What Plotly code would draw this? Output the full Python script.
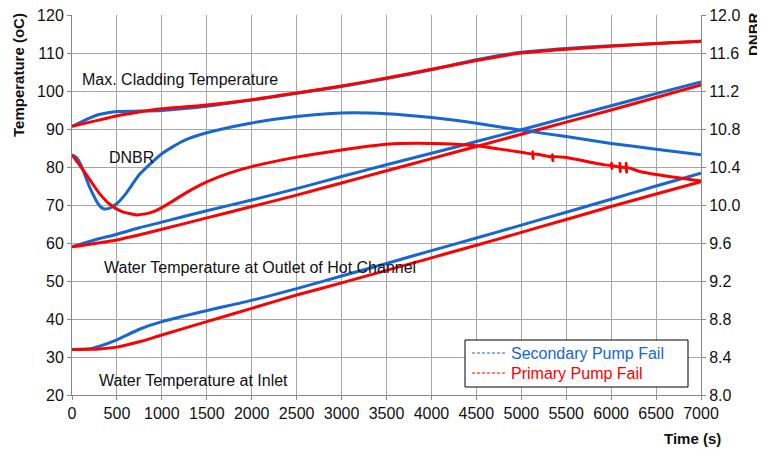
import plotly.graph_objects as go

# ---------------- data ----------------
# Max. cladding temperature (oC)
clad_sec_t = [0, 100, 200, 300, 400, 500, 700, 1000, 1500, 2000, 2500, 3000, 3500, 4000, 4500, 5000, 5500, 6000, 6500, 7000]
clad_sec_v = [90.7, 91.8, 92.9, 93.8, 94.3, 94.6, 94.7, 94.9, 96.0, 97.6, 99.4, 101.2, 103.3, 105.6, 108.2, 110.2, 111.2, 111.9, 112.5, 113.1]
clad_pri_t = [0, 200, 400, 500, 700, 1000, 1500, 2000, 2500, 3000, 3500, 4000, 4500, 5000, 5500, 6000, 6500, 7000]
clad_pri_v = [90.7, 91.8, 92.9, 93.5, 94.3, 95.3, 96.3, 97.7, 99.5, 101.3, 103.4, 105.7, 108.0, 110.0, 111.0, 111.8, 112.5, 113.1]

# Water temperature at outlet of hot channel (oC)
out_sec_t = [0, 250, 500, 750, 1000, 1500, 2000, 2500, 3000, 3500, 4000, 4500, 5000, 5500, 6000, 6500, 7000]
out_sec_v = [59.0, 60.8, 62.3, 64.0, 65.5, 68.5, 71.3, 74.3, 77.5, 80.6, 83.6, 86.7, 89.8, 93.0, 96.1, 99.3, 102.4]
out_pri_t = [0, 500, 1000, 1500, 2000, 2500, 3000, 3500, 4000, 4500, 5000, 5500, 6000, 6500, 7000]
out_pri_v = [59.0, 60.8, 63.6, 66.6, 69.6, 72.6, 75.8, 79.0, 82.2, 85.4, 88.6, 91.8, 95.0, 98.3, 101.6]

# Water temperature at inlet (oC)
in_sec_t = [0, 200, 300, 500, 750, 1000, 1500, 2000, 2500, 3000, 3500, 4000, 4500, 5000, 5500, 6000, 6500, 7000]
in_sec_v = [32.0, 32.2, 32.8, 34.5, 37.3, 39.3, 42.2, 44.9, 48.0, 51.3, 54.6, 58.0, 61.3, 64.7, 68.1, 71.5, 75.0, 78.4]
in_pri_t = [0, 300, 500, 750, 1000, 1500, 2000, 2500, 3000, 3500, 4000, 4500, 5000, 5500, 6000, 6500, 7000]
in_pri_v = [32.0, 32.1, 32.6, 34.0, 35.8, 39.3, 42.8, 46.3, 49.5, 52.8, 56.1, 59.4, 62.8, 66.2, 69.6, 72.9, 76.1]

# DNBR (right axis)
dnbr_sec_t = [0, 50, 100, 200, 300, 350, 420, 500, 600, 750, 1000, 1250, 1500, 2000, 2500, 3000, 3500, 4000, 4500, 5000, 5500, 6000, 6500, 7000]
dnbr_sec_v = [10.528, 10.50, 10.42, 10.18, 10.00, 9.96, 9.968, 10.016, 10.12, 10.32, 10.54, 10.68, 10.76, 10.864, 10.932, 10.968, 10.96, 10.92, 10.86, 10.788, 10.72, 10.648, 10.588, 10.528]
dnbr_pri_t = [0, 100, 200, 300, 420, 550, 720, 800, 900, 1000, 1100, 1200, 1350, 1500, 1750, 2000, 2500, 3000, 3500, 4000, 4500, 4760, 5000,
              5125, 5128, 5131, 5134, 5345, 5348, 5351, 5354, 5500, 6000, 6005, 6008, 6011, 6095, 6098, 6101, 6104, 6165, 6168, 6171, 6174, 6320, 6500, 7000]
dnbr_pri_v = [10.528, 10.40, 10.264, 10.128, 10.008, 9.932, 9.896, 9.904, 9.928, 9.972, 10.028, 10.088, 10.172, 10.244, 10.336, 10.404, 10.504, 10.58, 10.64, 10.648, 10.624, 10.588, 10.556,
              10.537, 10.56, 10.49, 10.536, 10.508, 10.53, 10.465, 10.507, 10.50, 10.416, 10.44, 10.385, 10.414, 10.40, 10.44, 10.35, 10.398, 10.395, 10.44, 10.345, 10.392, 10.352, 10.32, 10.252]

x_ticks = list(range(0, 7001, 500))
temp_ticks = list(range(20, 121, 10))
dnbr_ticks = [8.0, 8.4, 8.8, 9.2, 9.6, 10.0, 10.4, 10.8, 11.2, 11.6, 12.0]

series_names = ["Secondary Pump Fail", "Primary Pump Fail"]

BLUE = "#1766d1"
RED = "#ff0000"
FONT = "Liberation Sans, Arial, sans-serif"

fig = go.Figure()

def add_line(t, v, color, yaxis="y", shape="spline"):
    fig.add_trace(go.Scatter(x=t, y=v, mode="lines", yaxis=yaxis, showlegend=False,
                             line=dict(color=color, width=3, shape=shape, smoothing=0.6),
                             hoverinfo="skip"))

# secondary pump fail (blue) underneath, primary (red) on top
add_line(in_sec_t, in_sec_v, BLUE)
add_line(out_sec_t, out_sec_v, BLUE)
add_line(clad_sec_t, clad_sec_v, BLUE)
add_line(dnbr_sec_t, dnbr_sec_v, BLUE, "y2")
add_line(in_pri_t, in_pri_v, RED)
add_line(out_pri_t, out_pri_v, RED)
add_line(clad_pri_t, clad_pri_v, RED)
add_line(dnbr_pri_t, dnbr_pri_v, RED, "y2")

# page body has an 8px margin: the figure is drawn 8px in from the window corner
OFF = 8
W, H = 765 - OFF, 449 - OFF
# plot area in window pixels (reference)
L, R, T, B = 72, 701, 15, 395

def px(xp):
    return (xp - L) / (R - L)
def py(yp):
    return (B - yp) / (B - T)

grid = "#a6a6a6"
axis_common = dict(showline=True, linecolor="#888", linewidth=1, ticks="outside", ticklen=4,
                   tickcolor="#888", zeroline=False, tickfont=dict(size=16, color="#111"),
                   ticklabeloverflow="allow")
fig.update_layout(
    width=W, height=H,
    margin=dict(l=L - OFF, r=765 - R, t=T - OFF, b=449 - B, pad=0, autoexpand=False),
    paper_bgcolor="white", plot_bgcolor="white",
    font=dict(family=FONT, size=16, color="#111"),
    showlegend=False,
    xaxis=dict(range=[0, 7000], tickvals=x_ticks, showgrid=True, gridcolor=grid, gridwidth=1, **axis_common),
    yaxis=dict(range=[20, 120], tickvals=temp_ticks, showgrid=True, gridcolor=grid, gridwidth=1, **axis_common),
    yaxis2=dict(range=[8, 12], tickvals=dnbr_ticks, tickformat=".1f", overlaying="y", side="right",
                showgrid=False, **axis_common),
)

# legend box (drawn as in the reference: thin short-dashed samples, coloured labels)
fig.add_shape(type="rect", xref="paper", yref="paper", x0=px(465), x1=px(688), y0=py(387), y1=py(340),
              line=dict(color="#000", width=1), fillcolor="white", layer="above")
for name, color, yrow in [(series_names[0], BLUE, 353), (series_names[1], RED, 373)]:
    fig.add_shape(type="line", xref="paper", yref="paper", x0=px(472), x1=px(505), y0=py(yrow), y1=py(yrow),
                  line=dict(color=color, width=1, dash="3px,2px"), layer="above")
    fig.add_annotation(text=name, xref="paper", yref="paper", x=px(509), y=py(yrow),
                       xanchor="left", yanchor="middle", showarrow=False, font=dict(size=16, color=color))

annots = [
    dict(text="Max. Cladding Temperature", x=px(80), y=py(80), xanchor="left", yanchor="middle"),
    dict(text="DNBR", x=px(107), y=py(158), xanchor="left", yanchor="middle"),
    dict(text="Water Temperature at Outlet of Hot Channel", x=px(102), y=py(267), xanchor="left", yanchor="middle"),
    dict(text="Water Temperature at Inlet", x=px(97), y=py(380), xanchor="left", yanchor="middle"),
]
for a in annots:
    fig.add_annotation(xref="paper", yref="paper", showarrow=False, font=dict(size=16, color="#111"), **a)

# axis titles placed as in the reference
fig.add_annotation(text="<b>Temperature (oC)</b>", xref="paper", yref="paper", x=px(18), y=py(75),
                   xanchor="center", yanchor="middle", textangle=-90, showarrow=False, font=dict(size=15, color="#111"))
fig.add_annotation(text="<b>DNBR</b>", xref="paper", yref="paper", x=px(753), y=py(35),
                   xanchor="center", yanchor="middle", textangle=-90, showarrow=False, font=dict(size=15, color="#111"))
fig.add_annotation(text="<b>Time (s)</b>", xref="paper", yref="paper", x=px(723), y=py(438),
                   xanchor="right", yanchor="middle", showarrow=False, font=dict(size=15, color="#111"))

fig.write_html("out.html")
